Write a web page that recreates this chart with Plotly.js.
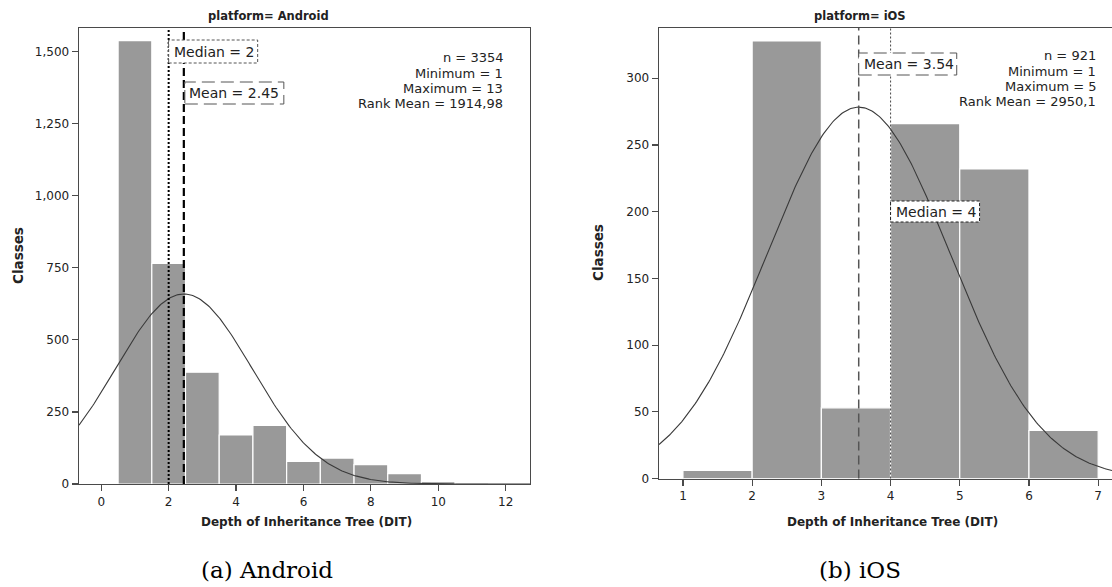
<!DOCTYPE html>
<html>
<head>
<meta charset="utf-8">
<script src="https://cdn.plot.ly/plotly-3.0.1.min.js"></script>
<style>html,body{margin:0;padding:0;background:#fff;}#chart{width:1112px;height:587px;}</style>
</head>
<body>
<div id="chart"></div>
<script>
// ---------- DATA ----------
const androidDIT = [0, 1, 2, 3, 4, 5, 6, 7, 8, 9, 10, 11, 12, 13];
const androidCounts = [0, 1538, 765, 388, 170, 203, 78, 90, 67, 36, 8, 5, 2, 1];
const androidN = 3354, androidMean = 2.45, androidMedian = 2, androidSD = 2.03;
const androidStats = ["n = 3354", "Minimum = 1", "Maximum = 13", "Rank Mean = 1914,98"];

const iosBinStart = [1, 2, 3, 4, 5, 6];
const iosCounts = [6, 328, 53, 266, 232, 36];
const iosN = 921, iosMean = 3.54, iosMedian = 4, iosSD = 1.32;
const iosStats = ["n = 921", "Minimum = 1", "Maximum = 5", "Rank Mean = 2950,1"];

const panelTitles = ["platform= Android", "platform= iOS"];
const captions = ["(a) Android", "(b) iOS"];
const xTitle = "Depth of Inheritance Tree (DIT)";
const yTitle = "Classes";

// ---------- HELPERS ----------
function normalCurve(mean, sd, n, binW, x0, x1) {
  const xs = [], ys = [];
  const steps = 300;
  for (let i = 0; i <= steps; i++) {
    const x = x0 + (x1 - x0) * i / steps;
    xs.push(x);
    ys.push(n * binW / (sd * Math.sqrt(2 * Math.PI)) * Math.exp(-Math.pow(x - mean, 2) / (2 * sd * sd)));
  }
  return {x: xs, y: ys};
}

const W = 1112, H = 587;
const px = v => v / W;
const py = v => 1 - v / H;

const axRangeA = [-0.66, 12.72], ayRangeA = [0, 1582];
const axRangeB = [0.654, 7.2], ayRangeB = [0, 337.7];

const barColor = '#999999';
const axisColor = '#4a4a4a';
const textColor = '#222222';
const FONT = 'DejaVu Sans, sans-serif';

const curveA = normalCurve(androidMean, androidSD, androidN, 1, axRangeA[0], axRangeA[1]);
const curveB = normalCurve(iosMean, iosSD, iosN, 1, axRangeB[0], axRangeB[1]);

const traces = [
  {type: 'bar', x: androidDIT, y: androidCounts, width: 1, xaxis: 'x', yaxis: 'y',
   marker: {color: barColor, line: {color: '#ffffff', width: 1.2}}, hoverinfo: 'x+y'},
  {type: 'scatter', mode: 'lines', x: curveA.x, y: curveA.y, xaxis: 'x', yaxis: 'y',
   line: {color: '#3a3a3a', width: 1.1}, hoverinfo: 'skip'},
  {type: 'bar', x: iosBinStart, y: iosCounts, width: 1, offset: 0, xaxis: 'x2', yaxis: 'y2',
   marker: {color: barColor, line: {color: '#ffffff', width: 1.2}}, hoverinfo: 'x+y'},
  {type: 'scatter', mode: 'lines', x: curveB.x, y: curveB.y, xaxis: 'x2', yaxis: 'y2',
   line: {color: '#3a3a3a', width: 1.1}, hoverinfo: 'skip'}
];

function axisBase(extra) {
  return Object.assign({
    showgrid: false, zeroline: false, showline: true, mirror: true,
    linecolor: axisColor, linewidth: 1.4,
    ticks: 'outside', ticklen: 6, tickwidth: 1.2, tickcolor: axisColor,
    tickfont: {family: FONT, size: 12, color: textColor}, fixedrange: true
  }, extra);
}

const shapes = [
  // Android median / mean lines
  {type: 'line', xref: 'x', yref: 'y domain', x0: androidMedian, x1: androidMedian, y0: 0, y1: 1,
   line: {color: '#000', width: 2, dash: '2px,2px'}, layer: 'above'},
  {type: 'line', xref: 'x', yref: 'y domain', x0: androidMean, x1: androidMean, y0: 0, y1: 1,
   line: {color: '#000', width: 2.2, dash: '8px,4px'}, layer: 'above'},
  // iOS mean / median lines
  {type: 'line', xref: 'x2', yref: 'y2 domain', x0: iosMean, x1: iosMean, y0: 0, y1: 1,
   line: {color: '#555', width: 1.5, dash: '9px,5px'}, layer: 'above'},
  {type: 'line', xref: 'x2', yref: 'y2 domain', x0: iosMedian, x1: iosMedian, y0: 0, y1: 1,
   line: {color: '#555', width: 1.1, dash: '2px,2px'}, layer: 'above'},
  // boxes
  {type: 'rect', xref: 'x', yref: 'y domain', xsizemode: 'pixel', ysizemode: 'pixel',
   xanchor: androidMedian, x0: 0, x1: 89, yanchor: 1, y0: -35, y1: -12,
   fillcolor: '#ffffff', line: {color: '#555', width: 1, dash: '3px,2px'}, layer: 'above'},
  {type: 'rect', xref: 'x', yref: 'y domain', xsizemode: 'pixel', ysizemode: 'pixel',
   xanchor: androidMean, x0: 1, x1: 100, yanchor: 1, y0: -76, y1: -54,
   fillcolor: '#ffffff', line: {color: '#555', width: 1, dash: '13px,6px'}, layer: 'above'},
  {type: 'rect', xref: 'x2', yref: 'y2 domain', xsizemode: 'pixel', ysizemode: 'pixel',
   xanchor: iosMean, x0: 0, x1: 98, yanchor: 1, y0: -47, y1: -25,
   fillcolor: '#ffffff', line: {color: '#555', width: 1, dash: '13px,6px'}, layer: 'above'},
  {type: 'rect', xref: 'x2', yref: 'y2 domain', xsizemode: 'pixel', ysizemode: 'pixel',
   xanchor: iosMedian, x0: 0, x1: 89, yanchor: 1, y0: -194, y1: -173,
   fillcolor: '#ffffff', line: {color: '#222', width: 1, dash: '3px,2px'}, layer: 'above'}
];

const ann = [];
function boxText(text, xref, yref, xval, yshift) {
  ann.push({text: text, xref: xref, yref: yref, x: xval, y: 1, xanchor: 'left', yanchor: 'middle',
    xshift: 3, yshift: yshift, showarrow: false, font: {family: FONT, size: 14, color: textColor}});
}
boxText('Median = ' + androidMedian, 'x', 'y domain', androidMedian, -23.5);
boxText('Mean = ' + androidMean.toFixed(2), 'x', 'y domain', androidMean, -65);
boxText('Mean = ' + iosMean.toFixed(2), 'x2', 'y2 domain', iosMean, -36);
boxText('Median = ' + iosMedian, 'x2', 'y2 domain', iosMedian, -183.5);

function statsBlock(lines, xRightPx, topPx) {
  lines.forEach((t, i) => {
    ann.push({text: t, xref: 'paper', yref: 'paper', x: px(xRightPx), y: py(topPx + i * 15.3),
      xanchor: 'right', yanchor: 'middle', showarrow: false, align: 'right', borderpad: 0,
      font: {family: FONT, size: 13, color: textColor}});
  });
}
statsBlock(androidStats, 504, 58);
statsBlock(iosStats, 1097, 56);

// panel titles
[[panelTitles[0], 268], [panelTitles[1], 860]].forEach(([t, x]) => {
  ann.push({text: '<b>' + t + '</b>', xref: 'paper', yref: 'paper', x: px(x), y: py(16),
    xanchor: 'center', yanchor: 'middle', showarrow: false,
    font: {family: FONT, size: 11.5, color: textColor}});
});
// x titles
[[306], [892]].forEach(([x]) => {
  ann.push({text: '<b>' + xTitle + '</b>', xref: 'paper', yref: 'paper', x: px(x), y: py(522),
    xanchor: 'center', yanchor: 'middle', showarrow: false,
    font: {family: FONT, size: 12, color: textColor}});
});
// y titles
[[18, 256], [598, 253]].forEach(([x, y]) => {
  ann.push({text: '<b>' + yTitle + '</b>', xref: 'paper', yref: 'paper', x: px(x), y: py(y),
    xanchor: 'center', yanchor: 'middle', textangle: -90, showarrow: false,
    font: {family: FONT, size: 13.5, color: textColor}});
});
// captions
[[captions[0], 267], [captions[1], 860]].forEach(([t, x]) => {
  ann.push({text: t, xref: 'paper', yref: 'paper', x: px(x), y: py(570),
    xanchor: 'center', yanchor: 'middle', showarrow: false,
    font: {family: 'DejaVu Serif, serif', size: 23, color: '#000'}});
});

const layout = {
  width: W, height: H,
  margin: {l: 0, r: 0, t: 0, b: 0},
  paper_bgcolor: '#ffffff', plot_bgcolor: '#ffffff',
  showlegend: false, bargap: 0,
  xaxis: axisBase({domain: [px(79), px(530)], range: axRangeA, anchor: 'y', tickmode: 'linear', tick0: 0, dtick: 2}),
  yaxis: axisBase({domain: [py(484), py(28)], range: ayRangeA, anchor: 'x', tickmode: 'linear', tick0: 0, dtick: 250, tickformat: ','}),
  xaxis2: axisBase({domain: [px(659), 1], range: axRangeB, anchor: 'y2', tickmode: 'linear', tick0: 1, dtick: 1}),
  yaxis2: axisBase({domain: [py(478.5), py(28)], range: ayRangeB, anchor: 'x2', tickmode: 'linear', tick0: 0, dtick: 50}),
  shapes: shapes,
  annotations: ann
};

Plotly.newPlot('chart', traces, layout, {staticPlot: true, displayModeBar: false});
</script>
</body>
</html>
